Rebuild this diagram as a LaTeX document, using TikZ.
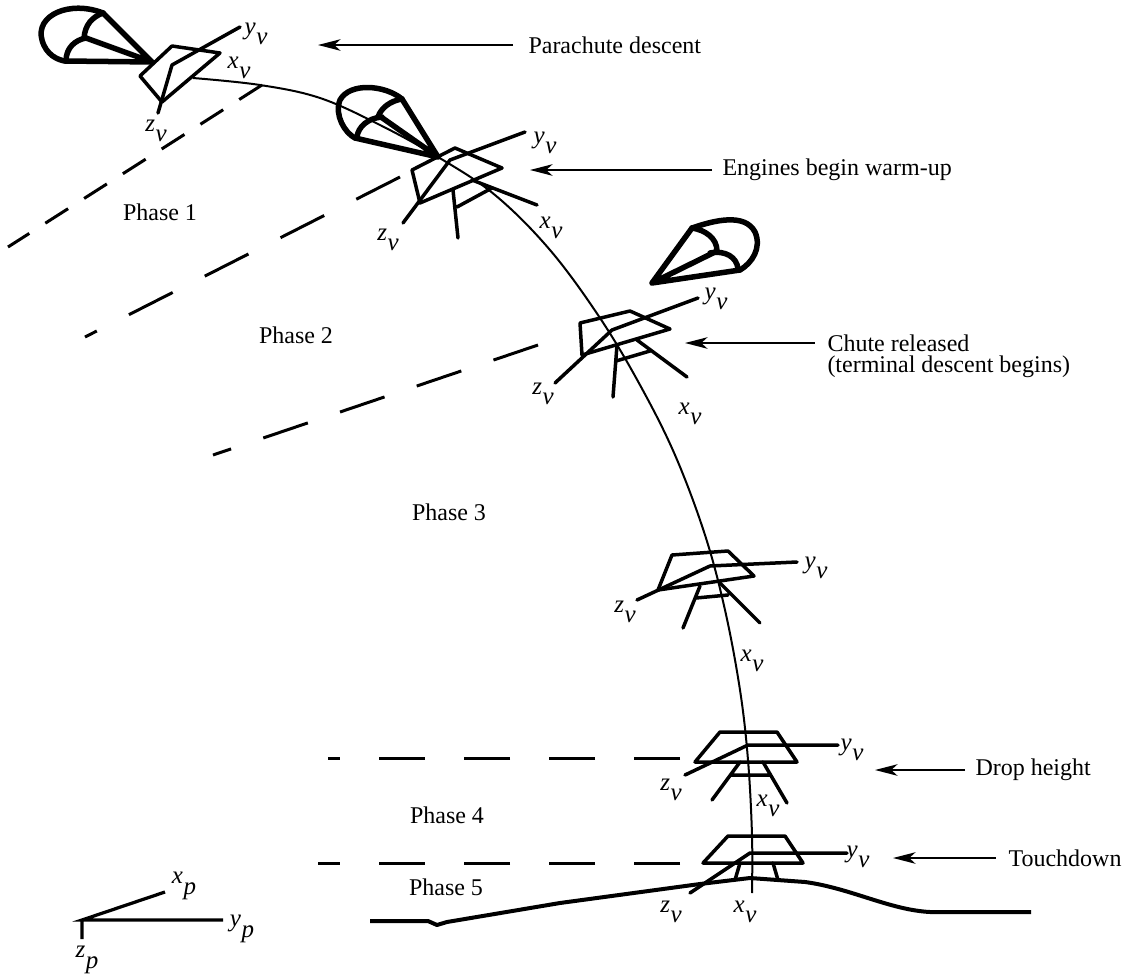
\documentclass[tikz,border=0pt]{standalone}
\usepackage{fontspec}
\setmainfont{Liberation Serif}
\usetikzlibrary{arrows.meta}
\newcommand\axlab[2]{\textit{#1}\kern0.2pt\raisebox{-4.2pt}{\textit{#2}}}
\begin{document}
\begin{tikzpicture}[x=0.4pt,y=-0.4pt,
  font=\fontsize{9.6}{11.5}\selectfont,
  traj/.style={line width=0.8pt},
  veh/.style={line width=1.4pt, line join=round, line cap=round},
  chute/.style={line width=2.2pt, line join=round, line cap=round},
  phase/.style={line width=1.2pt},
  ground/.style={line width=1.6pt, line join=round},
  axes/.style={line width=1.3pt},
  arr/.style={line width=0.8pt, -{Stealth[length=9pt,width=4.6pt,inset=2.5pt]}},
  txt/.style={inner sep=0pt, anchor=west},
  lbl/.style={inner sep=0pt, font=\fontsize{10}{12}\selectfont},
  phlbl/.style={inner sep=0pt}
]
\useasboundingbox (0,0) rectangle (1141,974);

% ---------- phase boundary lines ----------
\draw[phase, dash pattern=on 10.8pt off 7.6pt] (262,85) -- (8,247);
\draw[phase, dash pattern=on 19.6pt off 14.4pt] (400,177) -- (85,337);
\draw[phase, dash pattern=on 18.8pt off 13.6pt] (538,345) -- (213,455);
\draw[phase, dash pattern=on 18.4pt off 15.6pt] (680,758) -- (328,758);
\draw[phase, dash pattern=on 18.4pt off 15.6pt] (680,863) -- (318,863);

% ---------- trajectory ----------
\draw[traj] plot[smooth, tension=0.6] coordinates {(193,78) (260,85) (320,98) (380,125) (438,157) (495,195) (550,250) (600,318) (640,385) (675,455) (705,535) (725,610) (740,690) (748,760) (752,835) (752,893)};

% ---------- vehicle 1 + parachute ----------
\draw[veh] (140,76) -- (172,46) -- (220,53) -- (162,102) -- cycle;
\draw[veh] (158,113) -- (172,65) -- (240,27);
\draw[chute] (103,13) .. controls (70,0) and (35,15) .. (42,40) .. controls (46,55) and (58,60) .. (65,61);
\draw[chute] (66,61) .. controls (66,48) and (75,40) .. (86,38);
\draw[chute] (84,38) .. controls (85,25) and (92,17) .. (103,13);
\draw[chute] (65,61) -- (152,62) (86,38) -- (152,62) (103,13) -- (152,62);
\node[lbl] (y1) at (256,34) {\axlab{y}{v}};
\node[lbl] (x1) at (239,68) {\axlab{x}{v}};
\node[lbl] (z1) at (156,131) {\axlab{z}{v}};

% ---------- vehicle 2 + parachute ----------
\draw[veh] (412,170) -- (455,148) -- (502,168) -- (420,203) -- cycle;
\draw[veh] (403,223) -- (450,160) -- (525,132);
\draw[veh] (453,190) -- (458,238) (457,207) -- (492,188) (472,180) -- (537,205);
\draw[chute] (402,99) .. controls (385,85) and (350,82) .. (340,100) .. controls (334,115) and (345,133) .. (355,138);
\draw[chute] (357,137) .. controls (358,127) and (368,118) .. (382,117);
\draw[chute] (378,117) .. controls (381,108) and (390,101) .. (402,99);
\draw[chute] (355,138) -- (438,157) (381,117) -- (438,157) (402,99) -- (438,157);
\node[lbl] (y2) at (545,143) {\axlab{y}{v}};
\node[lbl] (x2) at (551,228) {\axlab{x}{v}};
\node[lbl] (z2) at (388,240) {\axlab{z}{v}};

% ---------- vehicle 3 + parachute ----------
\draw[veh] (580,323) -- (630,311) -- (670,329) -- (582,355) -- cycle;
\draw[veh] (555,383) -- (612,330) -- (698,298);
\draw[veh] (617,345) -- (613,397) (616,361) -- (650,351) (637,340) -- (687,377);
\draw[chute] (692,228) .. controls (715,220) and (745,213) .. (755,232) .. controls (762,248) and (752,263) .. (740,270);
\draw[chute] (692,228) .. controls (705,230) and (717,238) .. (717,251);
\draw[chute] (710,253) .. controls (725,250) and (737,257) .. (738,269);
\draw[chute] (692,228) -- (652,283) (715,252) -- (652,283) (740,270) -- (652,283);
\node[lbl] (y3) at (716,299) {\axlab{y}{v}};
\node[lbl] (x3) at (690,414) {\axlab{x}{v}};
\node[lbl] (z3) at (543,394) {\axlab{z}{v}};

% ---------- vehicle 4 ----------
\draw[veh] (672,555) -- (728,551) -- (754,576) -- (658,590) -- cycle;
\draw[veh] (637,600) -- (710,566) -- (797,562);
\draw[veh] (700,586) -- (683,628) (696,598) -- (728,595) (720,583) -- (760,623);
\node[lbl] (y4) at (816,568) {\axlab{y}{v}};
\node[lbl] (x4) at (752,661) {\axlab{x}{v}};
\node[lbl] (z4) at (625,612) {\axlab{z}{v}};

% ---------- vehicle 5 (drop height) ----------
\draw[veh] (720,732) -- (777,732) -- (797,762) -- (695,762) -- cycle;
\draw[veh] (685,775) -- (748,745) -- (838,745);
\draw[veh] (740,762) -- (712,800) (763,762) -- (787,803) (730,775) -- (771,775);
\node[lbl] (y5) at (852,750) {\axlab{y}{v}};
\node[lbl] (x5) at (768,806) {\axlab{x}{v}};
\node[lbl] (z5) at (671,790) {\axlab{z}{v}};

% ---------- vehicle 6 (touchdown) ----------
\draw[veh] (728,836) -- (785,836) -- (803,863) -- (703,863) -- cycle;
\draw[veh] (690,893) -- (750,853) -- (847,853);
\draw[veh] (740,863) -- (735,880) (773,863) -- (778,880);
\node[lbl] (y6) at (858,857) {\axlab{y}{v}};
\node[lbl] (x6) at (745,912) {\axlab{x}{v}};
\node[lbl] (z6) at (671,912) {\axlab{z}{v}};

% ---------- ground ----------
\draw[ground] (370,921) -- (428,921) -- (437,925) -- (447,922) -- (560,903) -- (700,884) -- (750,878) -- (805,882) .. controls (850,888) and (890,910) .. (930,912) -- (1031,912);

% ---------- planet axes ----------
\coordinate (po) at (82,920);
\coordinate (pxe) at (165,892);
\coordinate (pye) at (223,920);
\coordinate (pze) at (82,939);
\draw[axes] (pxe) -- (po) -- (pye) (po) -- (pze);
\node[lbl] (xp) at (184,886) {\axlab{x}{p}};
\node[lbl] (yp) at (242,929) {\axlab{y}{p}};
\node[lbl] (zp) at (87,960) {\axlab{z}{p}};

% ---------- phase labels ----------
\node[phlbl] (ph1) at (160,212) {Phase 1};
\node[phlbl] (ph2) at (296,335) {Phase 2};
\node[phlbl] (ph3) at (449,512) {Phase 3};
\node[phlbl] (ph4) at (447,815) {Phase 4};
\node[phlbl] (ph5) at (446,887) {Phase 5};

% ---------- event annotations ----------
\node[txt] (t1) at (528,45) {Parachute descent};
\coordinate (a1) at (318,45);
\draw[arr] ([xshift=-6pt]t1.west) -- (a1);

\node[txt] (t2) at (722,170) {Engines begin warm-up};
\coordinate (a2) at (530,170);
\draw[arr] ([xshift=-4pt]t2.west) -- (a2);

\node[txt] (t3) at (827,343) {Chute released};
\node[txt] (t3b) at (827,367) {(terminal descent begins)};
\coordinate (a3) at (685,343);
\draw[arr] ([xshift=-5pt]t3.west) -- (a3);

\node[txt] (t4) at (975,770) {Drop height};
\coordinate (a4) at (875,770);
\draw[arr] ([xshift=-4pt]t4.west) -- (a4);

\node[txt] (t5) at (1008,858) {Touchdown};
\coordinate (a5) at (893,858);
\draw[arr] ([xshift=-5pt]t5.west) -- (a5);
\end{tikzpicture}
\end{document}
